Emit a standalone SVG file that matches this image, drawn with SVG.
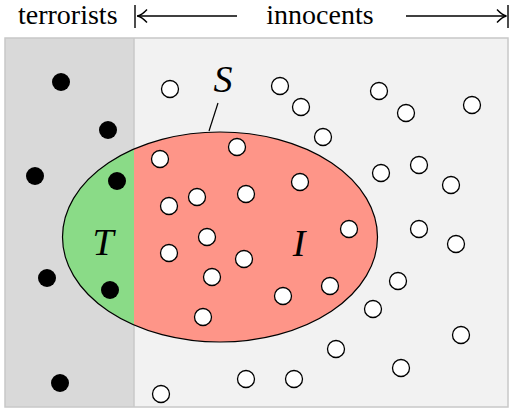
<svg xmlns="http://www.w3.org/2000/svg" width="510" height="411" viewBox="0 0 510 411">
<style>
.lbl{font-family:"Liberation Serif","Times New Roman",serif;font-size:28px;fill:#000}
.var{font-family:"Liberation Serif","Times New Roman",serif;font-style:italic;font-size:38px;fill:#000}
.t{fill:#000}
.i{fill:#fff;stroke:#000;stroke-width:1.3}
.ax{stroke:#000;stroke-width:1.4;fill:none}
</style>
<defs>
<clipPath id="lc"><rect x="0" y="0" width="134" height="411"/></clipPath>
<clipPath id="rc"><rect x="134" y="0" width="376" height="411"/></clipPath>
</defs>
<g id="background">
<rect x="5" y="38" width="129" height="369" fill="#d9d9d9"/>
<rect x="134" y="38" width="374" height="369" fill="#f2f2f2"/>
<line x1="134" y1="38" x2="134" y2="407" stroke="#c8c8c8" stroke-width="1.5"/>
<rect x="5" y="38" width="503" height="369" fill="none" stroke="#c8c8c8" stroke-width="1.5"/>
</g>
<g id="header">
<text class="lbl" x="18" y="24">terrorists</text>
<text class="lbl" x="320" y="24" text-anchor="middle">innocents</text>
<line class="ax" x1="135" y1="5" x2="135" y2="28"/>
<line class="ax" x1="137" y1="16" x2="237" y2="16"/>
<path class="ax" d="M147,9.5 Q142,15 137.5,16 Q142,17 147,22.5"/>
<line class="ax" x1="406" y1="16" x2="506" y2="16"/>
<path class="ax" d="M497,9.5 Q502,15 506.5,16 Q502,17 497,22.5"/>
<line class="ax" x1="508" y1="5" x2="508" y2="28"/>
</g>
<g id="S">
<ellipse cx="220" cy="237" rx="157.5" ry="105" fill="#8adb87" clip-path="url(#lc)"/>
<ellipse cx="220" cy="237" rx="157.5" ry="105" fill="#fe9588" clip-path="url(#rc)"/>
<ellipse cx="220" cy="237" rx="157.5" ry="105" fill="none" stroke="#000" stroke-width="1.2"/>
<text class="var" x="223" y="92" text-anchor="middle">S</text>
</g>
<g id="T"><text class="var" x="103" y="255" text-anchor="middle">T</text></g>
<g id="I"><text class="var" x="299" y="256" text-anchor="middle">I</text></g>
<g id="connectors">
<line x1="218" y1="103" x2="209" y2="131" stroke="#000" stroke-width="1.2"/>
</g>
<g id="terrorists">
<circle class="t" cx="61" cy="82" r="9"/>
<circle class="t" cx="108" cy="130" r="9"/>
<circle class="t" cx="35" cy="176" r="9"/>
<circle class="t" cx="117" cy="181" r="9"/>
<circle class="t" cx="47" cy="278" r="9"/>
<circle class="t" cx="110" cy="290" r="9"/>
<circle class="t" cx="60" cy="383" r="9"/>
</g>
<g id="innocents">
<circle class="i" cx="170" cy="89" r="8.5"/>
<circle class="i" cx="280" cy="86" r="8.5"/>
<circle class="i" cx="301" cy="107" r="8.5"/>
<circle class="i" cx="379" cy="91" r="8.5"/>
<circle class="i" cx="406" cy="113" r="8.5"/>
<circle class="i" cx="472" cy="105" r="8.5"/>
<circle class="i" cx="323" cy="137" r="8.5"/>
<circle class="i" cx="160" cy="159" r="8.5"/>
<circle class="i" cx="237" cy="147" r="8.5"/>
<circle class="i" cx="169" cy="206" r="8.5"/>
<circle class="i" cx="197" cy="197" r="8.5"/>
<circle class="i" cx="246" cy="194" r="8.5"/>
<circle class="i" cx="300" cy="182" r="8.5"/>
<circle class="i" cx="381" cy="173" r="8.5"/>
<circle class="i" cx="419" cy="165" r="8.5"/>
<circle class="i" cx="451" cy="185" r="8.5"/>
<circle class="i" cx="349" cy="229" r="8.5"/>
<circle class="i" cx="419" cy="229" r="8.5"/>
<circle class="i" cx="456" cy="244" r="8.5"/>
<circle class="i" cx="207" cy="237" r="8.5"/>
<circle class="i" cx="169" cy="253" r="8.5"/>
<circle class="i" cx="244" cy="259" r="8.5"/>
<circle class="i" cx="212" cy="277" r="8.5"/>
<circle class="i" cx="283" cy="296" r="8.5"/>
<circle class="i" cx="330" cy="286" r="8.5"/>
<circle class="i" cx="398" cy="281" r="8.5"/>
<circle class="i" cx="373" cy="309" r="8.5"/>
<circle class="i" cx="203" cy="317" r="8.5"/>
<circle class="i" cx="336" cy="349" r="8.5"/>
<circle class="i" cx="461" cy="335" r="8.5"/>
<circle class="i" cx="401" cy="368" r="8.5"/>
<circle class="i" cx="246" cy="379" r="8.5"/>
<circle class="i" cx="294" cy="379" r="8.5"/>
<circle class="i" cx="161" cy="394" r="8.5"/>
</g>
</svg>
